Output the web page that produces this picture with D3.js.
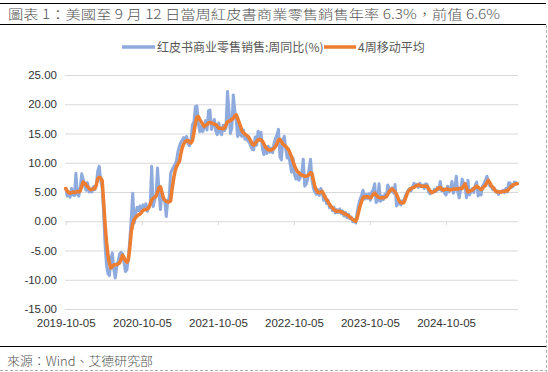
<!DOCTYPE html>
<html><head><meta charset="utf-8">
<script src="https://cdn.jsdelivr.net/npm/d3@7"></script>
<style>body{margin:0;background:#fff}svg{display:block}</style>
</head><body>
<svg id="c" width="548" height="372"></svg>
<script>
const titleText = "圖表 1：美國至 9 月 12 日當周紅皮書商業零售銷售年率 6.3%，前值 6.6%";
const sourceText = "來源：Wind、艾德研究部";
const seriesNames = ["红皮书商业零售销售:周同比(%)", "4周移动平均"];
const startDate = "2019-10-05";
const xTickLabels = ["2019-10-05","2020-10-05","2021-10-05","2022-10-05","2023-10-05","2024-10-05"];
const yTicks = [-15,-10,-5,0,5,10,15,20,25];

// weekly YoY (blue), one value per week from 2019-10-05
const weeklyYoY = [
 5.8,4.3,4.7,4.1,5.6,4.5,4.4,8.2,4.6,4.3, 5.8,8.1,7.2,6.0,5.3,6.6,5.0,5.5,5.0,5.9,
 5.4,6.2,8.6,9.4,7.0,5.8,1.5,-4.0,-7.5,-9.0, -9.3,-6.5,-5.4,-8.2,-9.7,-7.8,-6.8,-5.6,-5.3,-5.6,
 -7.0,-8.6,-8.3,-6.2,-3.2,0.5,4.8,-0.3,1.2,2.4, 1.8,2.6,1.5,2.8,2.1,3.0,1.7,2.5,3.0,9.4,
 2.5,3.6,4.5,9.1,5.2,2.0,4.8,3.8,3.5,0.8, 3.5,4.0,8.2,8.8,9.3,9.7,10.3,11.9,12.8,13.5,
 13.9,14.3,13.6,14.5,13.2,12.9,14.0,16.5,17.0,19.6, 19.7,16.8,15.3,16.3,15.3,16.0,17.2,15.6,18.9,19.0,
 15.7,16.5,17.4,15.4,14.8,16.8,15.2,14.8,16.4,15.5, 16.0,22.2,19.0,15.0,16.0,21.6,19.0,17.2,14.5,16.3,
 14.8,14.5,15.6,14.0,14.6,13.7,13.5,12.8,12.3,12.2, 14.4,13.0,15.4,13.8,15.2,12.4,11.4,12.8,11.6,12.8,
 11.8,12.5,11.7,13.4,14.2,14.8,15.7,11.0,10.5,14.0, 14.5,12.3,10.8,11.5,9.8,8.4,10.8,8.0,7.2,8.0,
 7.0,7.5,8.3,10.6,6.0,6.3,7.2,9.0,10.6,7.0, 5.6,5.0,4.6,5.4,4.4,5.6,4.8,3.6,4.3,3.0,
 3.6,2.3,2.7,1.8,2.4,1.4,2.0,1.5,2.1,1.3, 1.8,0.9,1.5,0.6,1.2,0.4,0.7,-0.1,0.3,-0.3,
 1.5,2.8,3.8,4.4,5.3,3.8,4.6,3.9,4.7,3.6, 5.0,5.4,6.4,3.2,3.5,6.4,3.4,4.3,3.7,4.6,
 4.2,6.2,5.6,5.0,5.7,4.8,6.3,2.6,3.0,3.2, 2.8,3.5,3.4,4.3,4.8,5.3,5.6,5.2,5.9,6.5,
 6.0,6.3,5.8,6.5,5.9,6.2,5.6,6.4,6.3,5.0, 4.7,5.0,4.9,5.5,5.1,5.8,5.4,6.8,5.2,5.6,
 4.8,4.5,6.0,5.0,5.6,6.8,4.8,5.5,7.7,5.0, 4.0,5.4,7.2,6.5,6.0,4.0,7.0,4.5,5.0,5.6,
 4.9,6.2,6.7,4.3,5.6,4.5,6.0,6.4,7.0,7.7, 6.9,6.0,5.9,5.4,5.7,5.0,5.2,4.6,5.1,5.0,
 5.3,4.9,5.6,5.0,6.6,6.5,5.8,6.0,6.7,6.6, 6.3
];

// 4-week moving average (orange)
const movingAvg4 = [
 5.6,5.2,4.9,4.8,4.9,5.0,4.9,5.0,5.1,5.0, 5.2,6.0,6.7,6.5,6.2,5.9,5.6,5.4,5.5,5.5,
 5.6,6.2,7.3,7.5,7.4,7.0,3.5,-0.5,-3.5,-5.8, -7.2,-8.0,-7.7,-7.5,-7.4,-7.4,-7.3,-7.1,-6.5,-5.8,
 -6.2,-6.7,-7.0,-6.6,-4.5,-1.8,-0.4,0.3,0.6,0.9, 1.1,1.2,1.5,1.8,2.0,2.0,2.1,2.3,2.9,3.7,
 3.9,4.1,4.3,5.0,5.7,5.9,5.0,4.0,3.6,3.4, 3.3,3.3,3.5,5.5,7.2,8.5,9.3,9.8,10.2,11.5,
 12.6,13.2,13.6,13.8,13.8,13.5,13.4,13.8,15.2,16.7, 17.8,17.9,17.4,17.0,16.6,16.2,16.4,16.5,16.8,16.9,
 16.8,16.7,16.6,16.5,16.2,15.9,15.9,15.9,15.8,15.9, 16.5,17.0,17.1,17.2,17.4,17.6,18.0,18.2,17.6,16.9,
 16.2,15.4,15.1,14.9,14.7,14.5,14.2,13.7,13.2,13.0, 13.3,13.6,13.9,14.0,13.9,13.7,13.2,12.7,12.4,12.2,
 12.2,12.2,12.3,12.5,12.8,13.3,13.9,14.0,13.6,13.2, 13.0,12.8,12.5,12.2,11.6,11.0,10.2,9.5,8.9,8.5,
 8.3,8.0,7.9,7.8,7.7,7.7,7.8,8.0,8.3,8.2, 7.0,5.9,5.3,4.9,4.9,5.0,5.1,4.6,4.1,3.7,
 3.3,2.9,2.5,2.3,2.0,1.8,1.7,1.7,1.7,1.6, 1.5,1.3,1.2,1.1,0.9,0.7,0.5,0.3,0.1,0.0,
 0.6,1.6,2.6,3.4,4.0,4.2,4.2,4.2,4.1,4.0, 4.2,4.6,4.8,4.5,4.2,4.1,4.0,4.0,4.0,4.1,
 4.2,4.6,5.1,5.4,5.5,5.3,5.0,4.6,4.0,3.4, 3.2,3.1,3.2,3.8,4.5,5.1,5.4,5.6,5.7,5.8,
 6.0,6.1,6.2,6.1,6.0,6.0,6.0,6.0,6.0,5.6, 5.2,4.9,5.0,5.1,5.3,5.5,5.7,5.8,5.5,5.3,
 5.4,5.5,5.5,5.4,5.4,5.4,5.5,5.5,5.5,5.5, 5.6,5.6,5.6,6.0,6.4,5.7,5.0,5.1,5.2,5.3,
 5.6,5.8,6.0,5.8,5.6,5.4,5.6,5.9,6.1,6.6, 7.0,6.6,6.1,5.8,5.5,5.2,5.0,5.0,5.0,5.0,
 5.1,5.1,5.2,5.2,5.5,5.8,6.0,6.2,6.3,6.4, 6.4
];

const parse = d3.utcParse("%Y-%m-%d");
const t0 = parse(startDate);
const dates = weeklyYoY.map((_, i) => d3.utcDay.offset(t0, 7 * i));
const blueData = weeklyYoY.map((v, i) => ({date: dates[i], v}));
const orangeData = movingAvg4.map((v, i) => ({date: dates[i], v}));

const svg = d3.select("#c");
const W = 548, H = 372;
const plotL = 65.7, plotR = 517.5, gridL = 65, gridR = 518;

const x = d3.scaleUtc().domain([dates[0], dates[dates.length - 1]]).range([plotL, plotR]);
const y = d3.scaleLinear().domain([-15, 25]).range([309, 75]);

svg.append("rect").attr("width", W).attr("height", H).attr("fill", "#fff");

// frame lines
svg.append("line").attr("x1", 0).attr("x2", 546).attr("y1", 3.5).attr("y2", 3.5).attr("stroke", "#000").attr("stroke-width", 1.2);
svg.append("line").attr("x1", 0).attr("x2", 546).attr("y1", 24.5).attr("y2", 24.5).attr("stroke", "#000").attr("stroke-width", 1.2);
svg.append("line").attr("x1", 546.5).attr("x2", 546.5).attr("y1", 25).attr("y2", 372).attr("stroke", "#b0b0b0").attr("stroke-dasharray", "3,2");
svg.append("line").attr("x1", 0).attr("x2", 546).attr("y1", 346.5).attr("y2", 346.5).attr("stroke", "#000").attr("stroke-width", 1.2);
svg.append("line").attr("x1", 0).attr("x2", 546).attr("y1", 370.5).attr("y2", 370.5).attr("stroke", "#b0b0b0").attr("stroke-dasharray", "3,2");

// title
svg.append("text").attr("x", 8).attr("y", 18.5)
  .attr("font-family", "'Noto Sans CJK TC','Noto Sans CJK SC',sans-serif").attr("font-size", 13)
  .attr("font-weight", 300)
  .attr("fill", "#555").attr("textLength", 492).attr("lengthAdjust", "spacingAndGlyphs")
  .text(titleText);

// source
svg.append("text").attr("x", 7).attr("y", 365.5)
  .attr("font-family", "'Noto Sans CJK TC','Noto Sans CJK SC',sans-serif").attr("font-size", 12.5)
  .attr("font-weight", 300)
  .attr("fill", "#555").attr("textLength", 146).attr("lengthAdjust", "spacingAndGlyphs")
  .text(sourceText);

// y axis with gridlines
const yAxis = d3.axisLeft(y).tickValues(yTicks).tickSize(-(gridR - gridL)).tickPadding(8)
  .tickFormat(d => d.toFixed(2));
const gy = svg.append("g").attr("transform", `translate(${gridL},0)`).call(yAxis);
gy.select(".domain").remove();
gy.selectAll(".tick line").attr("stroke", "#d9d9d9").attr("stroke-width", 1);
gy.selectAll(".tick text").attr("font-family", "'Liberation Sans',Arial,sans-serif").attr("font-size", 11.5).attr("fill", "#333");

// x axis ticks on zero line
const xTickDates = xTickLabels.map(parse);
const xAxisTicks = d3.axisBottom(x).tickValues(xTickDates).tickSize(4).tickFormat("");
const gx0 = svg.append("g").attr("transform", `translate(0,${y(0)})`).call(xAxisTicks);
gx0.select(".domain").remove();
gx0.selectAll(".tick line").attr("stroke", "#d9d9d9");

// x axis labels at bottom
const xAxisLabels = d3.axisBottom(x).tickValues(xTickDates).tickSize(0).tickPadding(3)
  .tickFormat(d3.utcFormat("%Y-%m-%d"));
const gx = svg.append("g").attr("transform", "translate(0,316)").call(xAxisLabels);
gx.select(".domain").remove();
gx.selectAll(".tick text").attr("font-family", "'Liberation Sans',Arial,sans-serif").attr("font-size", 11.5).attr("fill", "#333");

// lines
const line = d3.line().x(d => x(d.date)).y(d => y(d.v));
svg.append("path").datum(blueData).attr("d", line).attr("fill", "none")
  .attr("stroke", "#8faadc").attr("stroke-width", 3).attr("stroke-linejoin", "round");
svg.append("path").datum(orangeData).attr("d", line).attr("fill", "none")
  .attr("stroke", "#ed7d31").attr("stroke-width", 3.5).attr("stroke-linejoin", "round").attr("stroke-linecap", "round");

// legend
const legend = [
  {name: seriesNames[0], color: "#8faadc", x1: 122, x2: 155},
  {name: seriesNames[1], color: "#ed7d31", x1: 324, x2: 356}
];
const lg = svg.append("g");
legend.forEach(l => {
  lg.append("line").attr("x1", l.x1).attr("x2", l.x2).attr("y1", 47).attr("y2", 47)
    .attr("stroke", l.color).attr("stroke-width", 3.5);
  lg.append("text").attr("x", l.x2 + 2).attr("y", 51.5)
    .attr("font-family", "'Noto Sans CJK SC',sans-serif").attr("font-size", 12)
    .attr("fill", "#595959").text(l.name);
});
</script>
</body></html>
